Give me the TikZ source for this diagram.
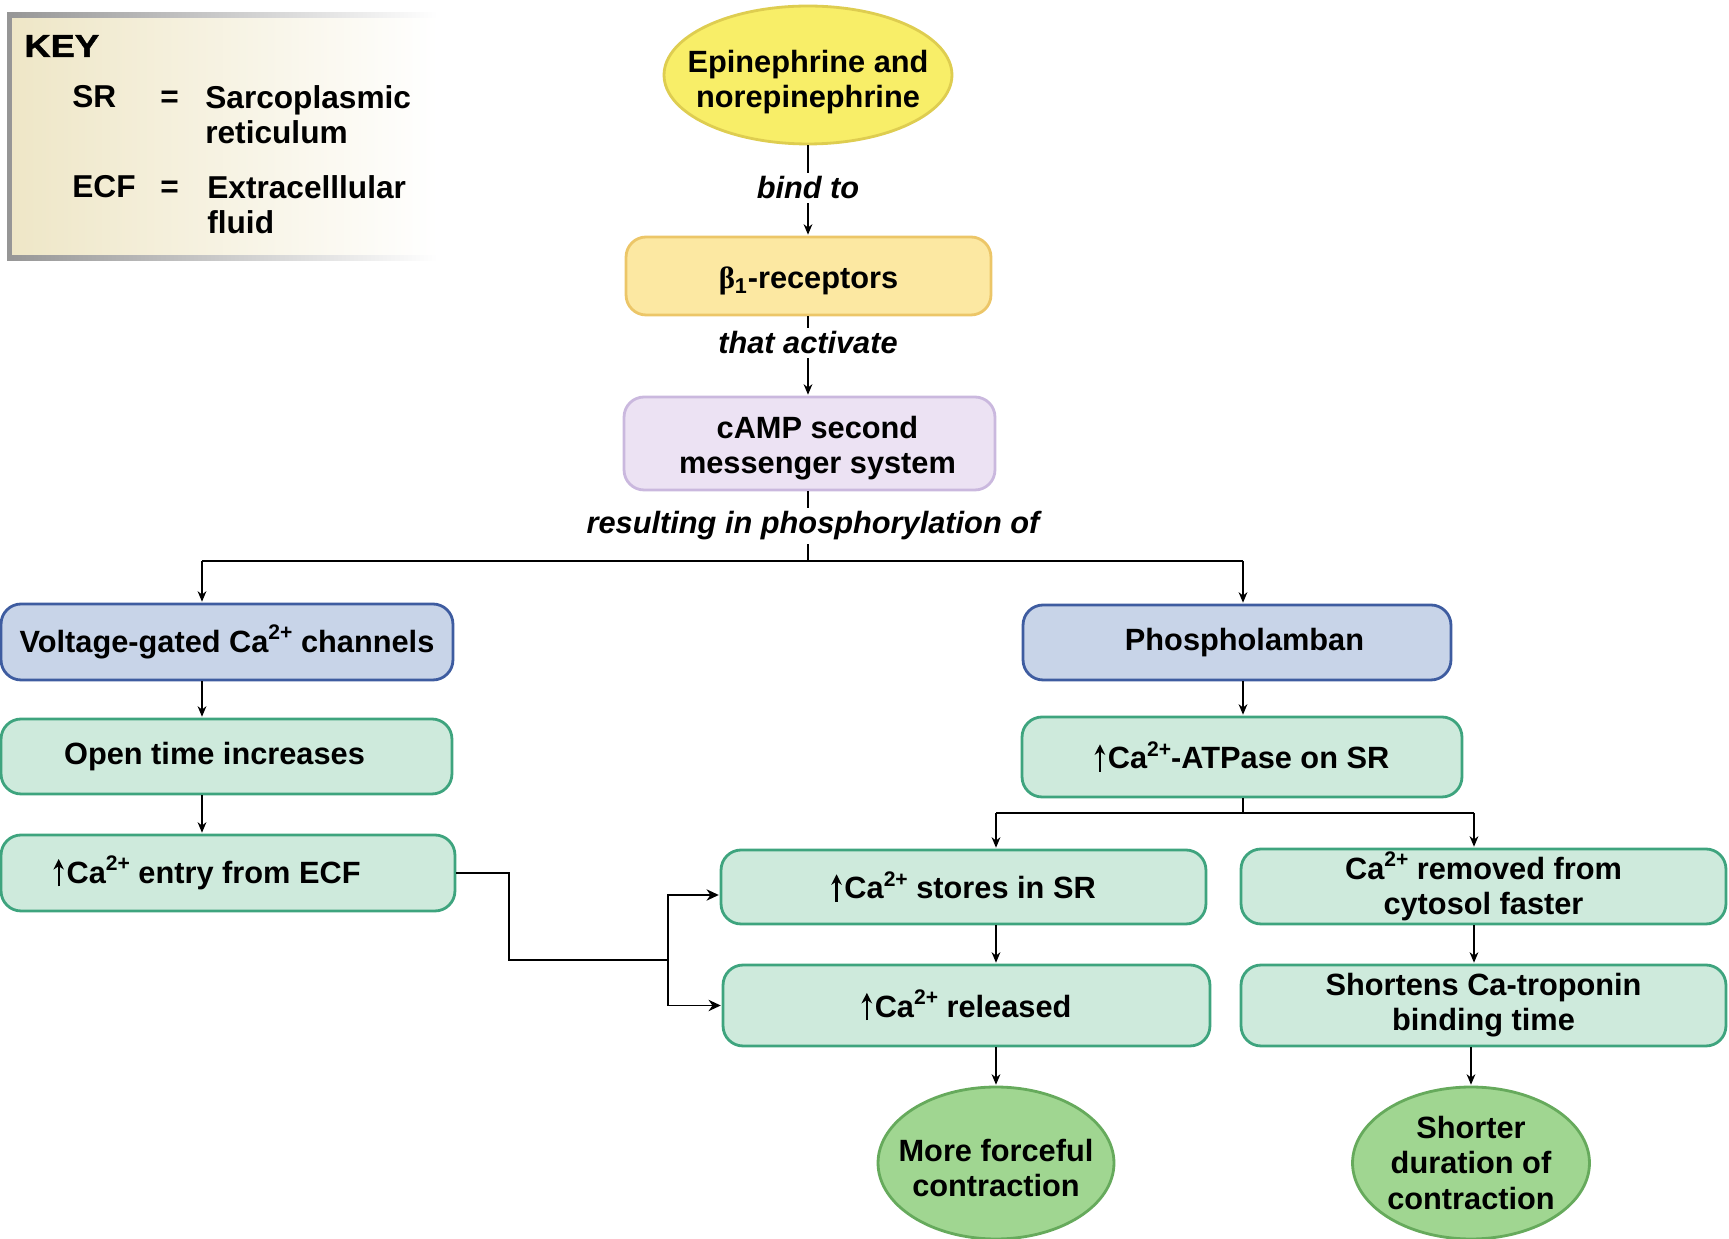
\documentclass[tikz,border=0pt]{standalone}
\usepackage{fontspec}
\setmainfont{Liberation Sans}
\newfontfamily\grk{Liberation Serif}
\usepackage{graphicx}
\usetikzlibrary{shapes.geometric,arrows.meta,calc}
\definecolor{yfill}{RGB}{248,238,104}
\definecolor{ydraw}{RGB}{222,205,80}
\definecolor{ofill}{RGB}{252,232,162}
\definecolor{odraw}{RGB}{236,198,104}
\definecolor{pfill}{RGB}{236,226,243}
\definecolor{pdraw}{RGB}{202,184,222}
\definecolor{bfill}{RGB}{200,212,232}
\definecolor{bdraw}{RGB}{62,92,160}
\definecolor{gfill}{RGB}{206,234,220}
\definecolor{gdraw}{RGB}{62,164,126}
\definecolor{efill}{RGB}{160,214,145}
\definecolor{edraw}{RGB}{102,170,92}
\definecolor{keyfill}{RGB}{238,230,198}
\definecolor{keyline}{RGB}{150,150,150}
\newcommand{\upa}{\tikz[baseline=0pt]\draw[line width=1.3pt,-{Stealth[length=6pt,width=6pt]}] (0pt,-1.5pt) -- (0pt,14pt);\kern1.5pt}
\newcommand{\myexp}[1]{\raisebox{0.42em}{\fontsize{12}{12}\selectfont #1}}
\begin{document}
\begin{tikzpicture}[x=0.02cm,y=-0.02cm,
  every node/.style={font=\fontsize{17.5}{20}\selectfont\bfseries, align=center},
  box/.style={draw, line width=1.6pt, rounded corners=0.4cm, inner sep=0pt},
  greenbox/.style={box, fill=gfill, draw=gdraw},
  bluebox/.style={box, fill=bfill, draw=bdraw},
  oval/.style={ellipse, draw, line width=1.6pt, inner sep=0pt},
  lbl/.style={font=\fontsize{17.5}{20}\selectfont\bfseries\itshape, inner sep=2pt},
  keytxt/.style={font=\fontsize{18}{20.4}\selectfont\bfseries, align=left, inner sep=0pt, anchor=base west},
  arr/.style={-{Stealth[length=6pt,width=5pt]}, line width=0.8pt, shorten >=0.5pt},
  bigarr/.style={-{Stealth[length=7pt,width=6.5pt]}, line width=0.8pt, shorten >=0.5pt},
  conn/.style={line width=0.8pt},
]
\useasboundingbox (0,0) rectangle (1729,1239);

% ---- key ----
\shade[left color=keyfill, right color=white] (7,13) rectangle (438,261);
\fill[keyline] (7,13) rectangle (12,261);
\shade[left color=keyline, right color=white] (7,13) rectangle (438,18);
\shade[left color=keyline, right color=white] (7,256) rectangle (438,261);
\node[keytxt] (keyt) at (24,57) {\addfontfeature{FakeBold=1.5}\scalebox{1.15}[1]{KEY}};
\node[keytxt] (ksr) at (72,108) {SR};
\node[keytxt] (keq1) at (160,108) {=};
\node[keytxt] (ksrt) at (205,144) {Sarcoplasmic\\reticulum};
\node[keytxt] (kecf) at (72,198) {ECF};
\node[keytxt] (keq2) at (160,198) {=};
\node[keytxt] (kecft) at (207,234) {Extracelllular\\fluid};

% ---- nodes ----
\node[oval, fill=yfill, draw=ydraw, minimum width=5.76cm, minimum height=2.76cm] (epi) at (808,75) {};
\node (epit) at ($(epi.center)+(0,7)$) {Epinephrine and\\norepinephrine};
\node[box, fill=ofill, draw=odraw, minimum width=7.3cm, minimum height=1.56cm] (beta) at (808.5,276) {};
\node (betat) at ($(beta.center)+(0,5)$) {{\grk\bfseries β}\textsubscript{1}-receptors};
\node[box, fill=pfill, draw=pdraw, minimum width=7.42cm, minimum height=1.86cm] (camp) at (809.5,443.5) {};
\node (campt) at ($(camp.center)+(8,5)$) {cAMP second\\messenger system};

\node[lbl] (bind) at (808,188) {bind to};
\node[lbl] (act) at (808,343) {that activate};
\node[lbl] (res) at (813,526) {resulting in phosphorylation of};

\node[bluebox, minimum width=9.04cm, minimum height=1.52cm] (volt) at (227,642) {Voltage-gated Ca\myexp{2+} channels};
\node[bluebox, minimum width=8.56cm, minimum height=1.5cm] (phos) at (1237,642.5) {\hspace*{0.3cm}Phospholamban};
\node[greenbox, minimum width=9.02cm, minimum height=1.5cm] (open) at (226.5,756.5) {Open time increases\rule{0.48cm}{0pt}};
\node[greenbox, minimum width=9.08cm, minimum height=1.52cm] (entry) at (228,873) {\upa Ca\myexp{2+} entry from ECF\rule{0.84cm}{0pt}};
\node[greenbox, minimum width=8.8cm, minimum height=1.6cm] (atp) at (1242,757) {\upa Ca\myexp{2+}-ATPase on SR};
\node[greenbox, minimum width=9.7cm, minimum height=1.48cm] (stores) at (963.5,887) {\upa Ca\myexp{2+} stores in SR};
\node[greenbox, minimum width=9.74cm, minimum height=1.62cm] (rel) at (966.5,1005.5) {\upa Ca\myexp{2+} released};
\node[greenbox, minimum width=9.7cm, minimum height=1.5cm] (rem) at (1483.5,886.5) {Ca\myexp{2+} removed from\\cytosol faster};
\node[greenbox, minimum width=9.7cm, minimum height=1.62cm] (short) at (1483.5,1005.5) {Shortens Ca-troponin\\binding time};
\node[oval, fill=efill, draw=edraw, minimum width=4.72cm, minimum height=3.04cm] (force) at (996,1163) {};
\node (forcet) at ($(force.center)+(0,5)$) {More forceful\\contraction};
\node[oval, fill=efill, draw=edraw, minimum width=4.74cm, minimum height=3.04cm] (shorter) at (1471,1163) {};
\node (shortert) at (shorter.center) {Shorter\\duration of\\contraction};

% ---- coordinates ----
\coordinate (jL) at (202,561);
\coordinate (jC) at (808,561);
\coordinate (jR) at (1243,561);
\coordinate (aS) at (1243,813);
\coordinate (aL) at (996,813);
\coordinate (aR) at (1474,813);
\coordinate (e1) at (509,960);
\coordinate (e2) at (668,960);

% ---- connectors ----
\draw[conn] (epi.south -| bind) -- (bind.north);
\draw[arr] (bind.south) -- (beta.north -| bind);
\draw[conn] (beta.south -| act) -- (act.north);
\draw[arr] (act.south) -- (camp.north -| act);
\draw[conn] (camp.south -| jC) -- (res.north -| jC);
\draw[conn] (res.south -| jC) -- (jC);
\draw[conn] (jL) -- (jR);
\draw[arr] (jL) -- (volt.north -| jL);
\draw[arr] (jR) -- (phos.north -| jR);
\draw[arr] (volt.south -| jL) -- (open.north -| jL);
\draw[arr] (open.south -| jL) -- (entry.north -| jL);
\draw[conn] (entry.east) -| (e1) -- (e2);
\draw[bigarr] (e2) |- ($(stores.west)+(0,8)$);
\draw[bigarr] (e2) |- (rel.west);
\draw[arr] (phos.south -| aS) -- (atp.north -| aS);
\draw[conn] (atp.south -| aS) -- (aS);
\draw[conn] (aL) -- (aR);
\draw[arr] (aL) -- (stores.north -| aL);
\draw[arr] (aR) -- (rem.north -| aR);
\draw[arr] (stores.south -| aL) -- (rel.north -| aL);
\draw[arr] (rel.south -| force) -- (force.north);
\draw[arr] (rem.south -| aR) -- (short.north -| aR);
\draw[arr] (short.south -| shorter) -- (shorter.north);
\end{tikzpicture}
\end{document}
